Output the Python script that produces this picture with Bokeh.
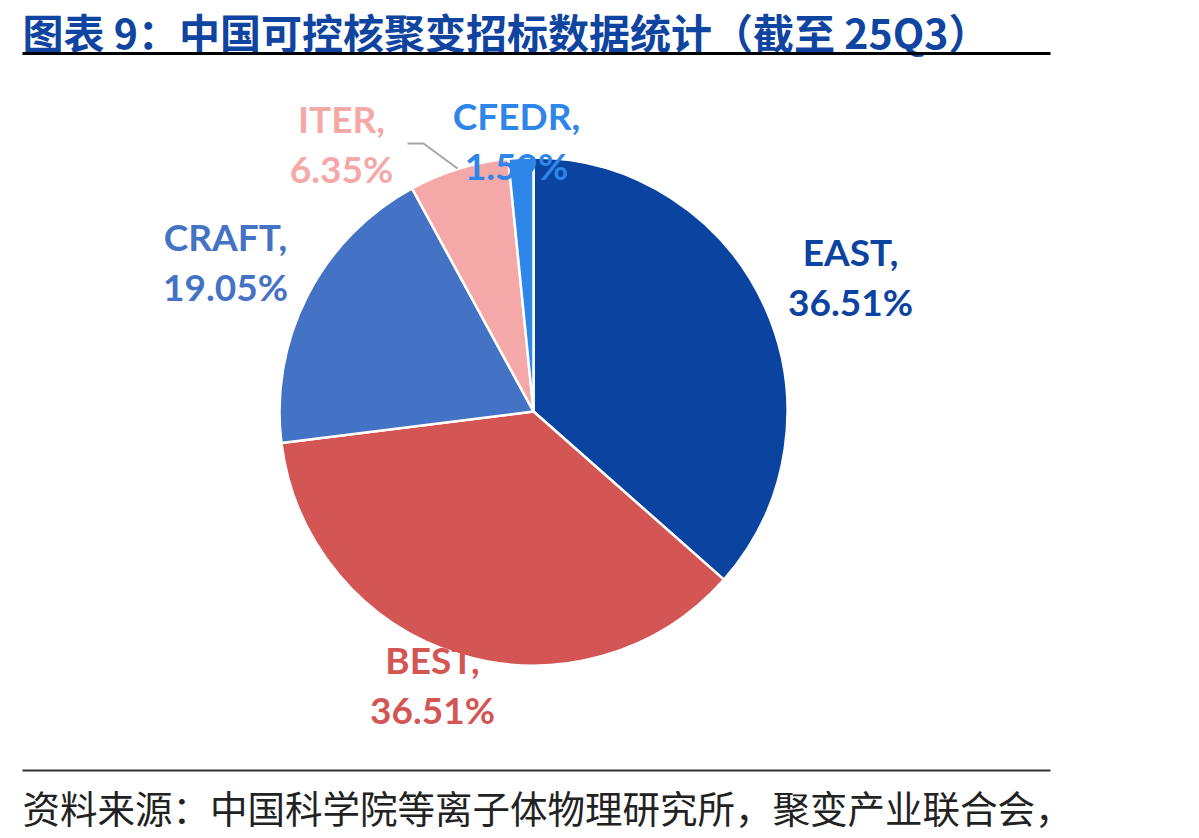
import numpy as np
from bokeh.plotting import figure
from bokeh.models import Range1d
from bokeh.core.properties import value
from bokeh.embed import file_html
from bokeh.resources import INLINE

W, H = 1199, 838

# ---- data ----
categories = ["EAST", "BEST", "CRAFT", "ITER", "CFEDR"]
counts = [23, 23, 12, 4, 1]
colors = ["#0A44A0", "#D35654", "#4472C4", "#F4A9A8", "#2E86E8"]
title_text = "图表 9：中国可控核聚变招标数据统计（截至 25Q3）"
source_text = "资料来源：中国科学院等离子体物理研究所，聚变产业联合会，"

# ---- layout (pixel coordinates, y measured from top) ----
cx, cy, R = 533, 411, 254
label_pos = [(850, 278), (432, 686), (225, 263), (341, 145), (516, 142)]
line_gap = 50
baseline_shift = -2


def Y(y):
    return H - y


shares = np.array(counts, dtype=float) / sum(counts)
cum = np.concatenate([[0], np.cumsum(shares)])
start = np.pi / 2 - 2 * np.pi * cum[:-1]
end = np.pi / 2 - 2 * np.pi * cum[1:]
pct = [f"{100 * s:.2f}%" for s in shares]

p = figure(width=W, height=H, x_range=Range1d(0, W), y_range=Range1d(0, H),
           output_backend="svg", toolbar_location=None,
           x_axis_type=None, y_axis_type=None,
           min_border=0, min_border_left=0, min_border_right=0,
           min_border_top=0, min_border_bottom=0)
p.grid.visible = False
p.outline_line_color = None
p.background_fill_color = "white"

# pie
p.wedge(x=[cx] * len(counts), y=[Y(cy)] * len(counts), radius=R,
        start_angle=start, end_angle=end, direction="clock",
        fill_color=colors, line_color="white", line_width=2.5)

# leader line for ITER
p.line(x=[407, 423, 457], y=[Y(143), Y(143), Y(168)], line_color="#A6A6A6", line_width=2)

# labels
lx = [pt[0] for pt in label_pos]
name_y = [Y(pt[1] - line_gap / 2 + baseline_shift) for pt in label_pos]
pct_y = [Y(pt[1] + line_gap / 2 + baseline_shift) for pt in label_pos]
p.text(x=lx, y=name_y, text=[c + "," for c in categories], text_color=colors,
       text_font=value("Lato"), text_font_style="bold", text_font_size="37px",
       text_align="center", text_baseline="alphabetic")
p.text(x=lx, y=pct_y, text=pct, text_color=colors,
       text_font=value("Lato"), text_font_style="bold", text_font_size="37px",
       text_align="center", text_baseline="alphabetic")

# title
p.text(x=[22], y=[Y(30)], text=[title_text], text_color="#0F44A0",
       text_font=value("Noto Sans CJK SC"), text_font_style="bold", text_font_size="41px",
       text_align="left", text_baseline="middle")
p.line(x=[22, 1050], y=[Y(53), Y(53)], line_color="black", line_width=3)

# source
p.line(x=[22, 1050], y=[Y(770), Y(770)], line_color="#333333", line_width=2)
p.text(x=[22], y=[Y(806)], text=[source_text], text_color="#222222",
       text_font=value("Noto Sans CJK SC"), text_font_size="37.5px",
       text_align="left", text_baseline="middle")

open("out.html", "w").write(file_html(p, INLINE))
